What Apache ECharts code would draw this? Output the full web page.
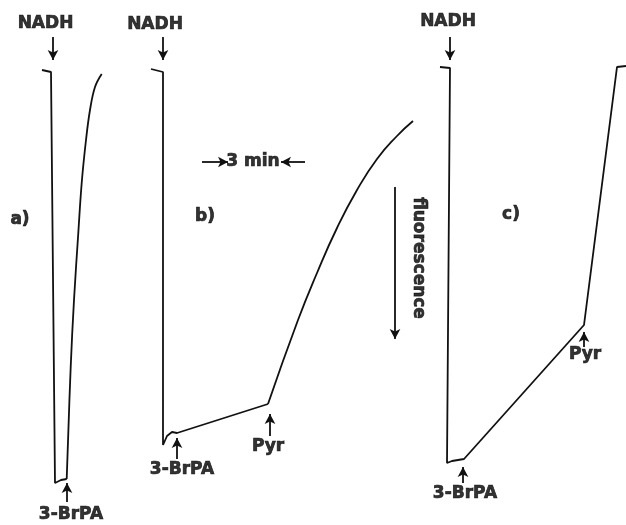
<!DOCTYPE html>
<html><head><meta charset="utf-8">
<script src="https://cdn.jsdelivr.net/npm/echarts@6/dist/echarts.min.js"></script>
<style>html,body{margin:0;background:#fff}#c{width:626px;height:525px}</style>
</head><body><div id="c"></div>
<script>
// Fluorescence traces, points as [time, fluorescence] in chart units (fluorescence axis points down)
const traceA = [[42,70],[51,72],[53,74],[55,483],[61,480],[66.7,479]];
const traceARecovery = [[66.7,479],[68.3,433],[70.7,367],[74,300],[78.3,233],[81.7,183],[86,140],[90,110],[95,87],[101.7,74]];
const traceB = [[151,69],[163,72],[165,74],[163,445],[167,436],[172,432],[177,433],[268,404]];
const traceBRecovery = [[268,404],[298,320],[317,273],[337,228],[357,190],[377,159],[397,136],[413,121]];
const traceC = [[440,67],[450,68],[451,70],[447,463],[452,461],[458,460],[464,459],[584,325],[617,67],[626,66]];

// Annotation texts and their anchor points
const labelTexts = ['NADH','NADH','NADH','3-BrPA','3-BrPA','3-BrPA','Pyr','Pyr','a)','b)','c)','3 min'];
const labelPoints = [[45.5,24],[155,25],[448,22],[71,515],[182,470],[465,494],[268,447],[585,355],[20,220],[205,217],[511,215],[253,162]];
const axisLabelText = 'fluorescence';
const axisLabelPoint = [418,258];

// Event arrows: [tail, tip]
const arrows = [
  [[53,37],[53,60]], [[163,37],[163,60]], [[450,37],[450,60]],
  [[67,502],[67,483]], [[177,459],[177,438]], [[463,483],[463,467]],
  [[270,436],[270,414]], [[584,347],[584,332]],
  [[202,162],[228,162]], [[305,162],[281,162]],
  [[395,187],[395,339]]
];

const ink = '#000000';
const font = {fontFamily:'DejaVu Sans', fontWeight:'bold', fontSize:17, color:ink,
  textBorderColor:ink, textBorderWidth:0.7};

function trace(data, smooth){
  return {type:'line', data:data, symbol:'none', smooth:smooth||false, clip:false,
    lineStyle:{color:'#111', width:1.8}, silent:true};
}

const chart = echarts.init(document.getElementById('c'), null, {renderer:'canvas'});
chart.setOption({
  animation:false,
  backgroundColor:'#ffffff',
  grid:{left:0,right:0,top:0,bottom:0},
  xAxis:{type:'value', min:0, max:626, show:false},
  yAxis:{type:'value', min:0, max:525, inverse:true, show:false},
  series:[
    trace(traceA),
    trace(traceARecovery, 0.4),
    trace(traceB),
    trace(traceBRecovery, 0.5),
    trace(traceC),
    {type:'line', data:[], symbol:'none', silent:true,
      markLine:{silent:true, symbol:['none','arrow'], symbolSize:[8,10],
        lineStyle:{color:'#111', width:1.8, type:'solid'}, label:{show:false},
        data: arrows.map(a => [{coord:a[0]},{coord:a[1]}])}},
    {type:'scatter', symbolSize:0, silent:true,
      data: labelTexts.map((t,i) => ({name:t, value:labelPoints[i]})),
      label:Object.assign({show:true, position:'inside', formatter:p => p.name}, font)},
    {type:'scatter', symbolSize:0, silent:true,
      data:[{name:axisLabelText, value:axisLabelPoint}],
      label:Object.assign({show:true, position:'inside', rotate:-90, formatter:p => p.name}, font)}
  ]
});
</script></body></html>
